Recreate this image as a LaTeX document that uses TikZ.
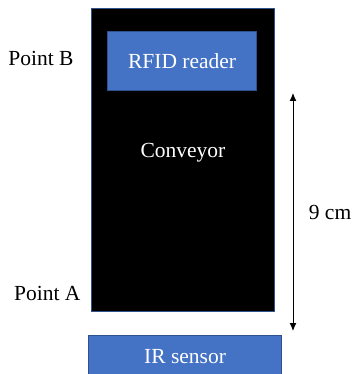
\documentclass[tikz,border=0pt]{standalone}
\usepackage{fontspec}
\setmainfont{Liberation Serif}
\usetikzlibrary{positioning,arrows.meta}
\definecolor{boxblue}{HTML}{4472C4}
\definecolor{edgeblue}{HTML}{2F528F}
\tikzset{
  part/.style={draw=edgeblue,line width=1.2pt,fill=boxblue,text=white,inner sep=0pt},
  txt/.style={font=\fontsize{21.5}{25}\selectfont}
}

\begin{document}
\begin{tikzpicture}[x=1pt,y=-1pt]
\useasboundingbox (0,0) rectangle (353,374);
\node[part,fill=black,text=white,minimum width=183pt,minimum height=303pt,anchor=north west] (conv) at (91,8) {};
\node[txt,text=white] (convtxt) at (183,153) {Conveyor};
\node[part,minimum width=149pt,minimum height=59pt,anchor=north west,txt] (rfid) at (107,31) {RFID reader};
\node[part,minimum width=193pt,minimum height=42pt,anchor=north west,txt] (ir) at (88,335) {IR sensor};
\node[txt,anchor=east] (ptb) at (77,58) {Point B};
\node[txt,anchor=east] (pta) at (84,293) {Point A};
\coordinate (top) at (293,93);
\coordinate (bot) at (293,331);
\draw[{Latex[length=8pt,width=7pt]}-{Latex[length=8pt,width=7pt]},line width=1pt] (top) -- node[txt,right=12pt]{9 cm} (bot);
\end{tikzpicture}
\end{document}
